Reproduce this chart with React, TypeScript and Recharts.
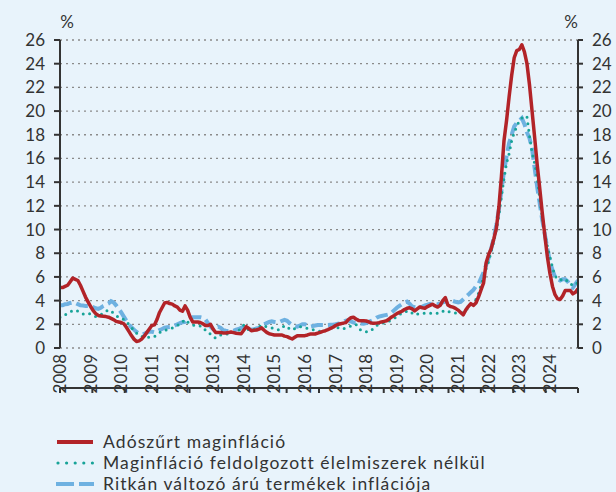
import React from 'react';
import { LineChart, Line, XAxis, YAxis, CartesianGrid } from 'recharts';

const yearLabels = ['2008','2009','2010','2011','2012','2013','2014','2015','2016','2017','2018','2019','2020','2021','2022','2023','2024'];
const yTicks = [0,2,4,6,8,10,12,14,16,18,20,22,24,26];

const seriesNames = ['Adószűrt maginfláció','Maginfláció feldolgozott élelmiszerek nélkül','Ritkán változó árú termékek inflációja'];

const adoszurt = [
  5.1,5.1,5.2,5.3,5.6,5.9,5.8,5.7,5.3,4.8,
  4.3,3.9,3.5,3.15,2.9,2.75,2.7,2.68,2.65,2.6,
  2.5,2.4,2.25,2.2,2.15,2.05,1.75,1.4,1.05,0.75,
  0.55,0.6,0.75,1.0,1.3,1.6,1.9,1.95,2.4,3.0,
  3.4,3.8,3.85,3.75,3.7,3.55,3.45,3.2,3.1,3.55,
  3.2,2.6,2.2,2.2,2.2,2.15,2.05,1.9,1.9,2.0,
  1.6,1.3,1.3,1.3,1.27,1.27,1.3,1.35,1.3,1.25,
  1.22,1.2,1.5,1.8,1.65,1.46,1.5,1.52,1.6,1.7,
  1.5,1.32,1.2,1.15,1.1,1.1,1.1,1.1,1.0,0.96,
  0.85,0.76,0.9,1.04,1.04,1.04,1.04,1.1,1.18,1.18,
  1.18,1.25,1.32,1.4,1.46,1.55,1.65,1.75,1.9,2.0,
  2.05,2.1,2.14,2.4,2.55,2.6,2.45,2.33,2.3,2.3,
  2.28,2.2,2.1,2.08,2.1,2.14,2.2,2.25,2.3,2.45,
  2.62,2.75,2.9,3.0,3.1,3.25,3.35,3.4,3.3,3.13,
  3.3,3.46,3.4,3.35,3.5,3.6,3.7,3.55,3.46,3.6,
  4.0,4.25,3.63,3.5,3.45,3.35,3.2,3.0,2.8,3.2,
  3.5,3.75,3.6,3.8,4.3,4.9,5.5,7.2,7.9,8.4,
  9.2,10.1,11.9,14.5,17.5,19.2,21.2,23.0,24.5,25.1,
  25.2,25.6,25.0,24.0,22.2,20.0,17.8,15.5,13.5,11.4,
  9.5,7.7,6.3,5.2,4.5,4.15,4.1,4.4,4.85,4.85,
  4.85,4.57,4.7,5.0,
];

const feldolgozottNelkul = [
  2.6,2.65,2.8,2.95,3.05,3.15,3.2,3.1,2.95,2.87,
  2.9,2.93,2.85,2.75,2.65,2.7,2.8,2.95,3.1,3.2,
  3.15,2.9,2.73,2.6,2.5,2.4,2.2,2.0,1.7,1.5,
  1.25,1.05,0.98,0.95,0.92,0.9,0.93,0.96,1.15,1.3,
  1.4,1.5,1.55,1.6,1.7,1.75,1.9,2.03,2.2,2.4,
  2.2,2.03,1.95,1.9,1.89,1.85,1.8,1.5,1.3,1.18,
  0.95,0.85,1.0,1.1,1.15,1.18,1.2,1.28,1.32,1.4,
  1.46,1.7,1.94,1.7,1.52,1.55,1.58,1.6,1.75,1.94,
  1.85,1.8,1.75,1.7,1.65,1.55,1.52,1.7,1.89,1.8,
  1.6,1.52,1.65,1.75,1.8,1.75,1.69,1.65,1.6,1.55,
  1.52,1.45,1.4,1.38,1.45,1.6,1.68,1.72,1.75,1.7,
  1.6,1.62,1.7,1.77,1.85,1.95,2.0,1.7,1.49,1.42,
  1.38,1.38,1.5,1.7,1.9,2.0,2.06,2.15,2.22,2.28,
  2.4,2.5,2.65,2.8,2.95,3.05,3.1,3.13,2.95,2.79,
  2.85,2.9,2.93,2.93,2.93,2.93,2.93,2.93,2.93,2.95,
  3.1,3.18,3.1,3.0,2.97,2.95,2.93,2.95,3.0,3.2,
  3.4,3.6,3.8,4.1,4.6,5.3,6.0,6.7,7.3,8.2,
  9.0,10.0,11.2,12.8,14.3,15.6,16.4,17.5,18.2,18.7,
  19.2,19.4,19.6,19.5,17.9,16.5,15.6,14.4,12.6,11.0,
  9.6,8.6,7.7,6.8,6.1,5.8,5.75,5.8,5.85,5.6,
  5.4,5.3,5.3,5.6,
];

const ritkanValtozo = [
  3.6,3.6,3.7,3.72,3.8,3.85,3.8,3.7,3.6,3.58,
  3.55,3.55,3.5,3.45,3.35,3.3,3.4,3.55,3.65,3.75,
  3.95,3.85,3.6,3.3,3.0,2.65,2.3,2.0,1.75,1.55,
  1.35,1.2,1.18,1.2,1.3,1.4,1.38,1.32,1.4,1.52,
  1.6,1.72,1.75,1.78,1.8,1.9,2.0,2.1,2.17,2.2,
  2.4,2.55,2.6,2.6,2.6,2.6,2.55,2.4,2.1,1.8,
  1.6,1.7,1.8,1.7,1.5,1.45,1.42,1.4,1.45,1.55,
  1.6,1.7,1.8,1.75,1.6,1.52,1.58,1.65,1.7,1.85,
  2.0,2.1,2.2,2.25,2.2,2.17,2.2,2.3,2.37,2.3,
  2.1,1.95,1.85,1.8,1.9,2.0,2.0,1.9,1.8,1.85,
  1.9,1.94,1.94,1.94,1.94,1.95,1.96,1.97,2.0,2.05,
  2.1,2.2,2.3,2.34,2.25,2.15,2.14,2.1,2.06,2.05,
  2.1,2.2,2.3,2.4,2.55,2.65,2.7,2.75,2.8,2.85,
  3.0,3.2,3.4,3.55,3.7,3.85,3.92,3.75,3.5,3.45,
  3.4,3.42,3.5,3.6,3.65,3.72,3.75,3.72,3.7,3.75,
  3.85,3.92,3.95,3.97,3.97,3.9,3.85,3.9,4.1,4.3,
  4.5,4.7,4.9,5.2,5.4,5.9,6.4,7.0,7.6,8.4,
  9.3,10.4,11.7,13.3,14.9,16.2,17.3,18.0,18.7,19.0,
  19.2,19.4,18.9,18.2,17.7,16.8,15.2,13.6,12.2,10.8,
  9.6,8.4,7.3,6.6,6.0,5.8,5.7,5.8,5.8,5.6,
  5.3,5.1,5.4,5.7,
];

const N = adoszurt.length;
const data = adoszurt.map((v, i) => ({
  m: i,
  red: v,
  green: feldolgozottNelkul[i],
  blue: ritkanValtozo[i],
}));
const axisTicks = Array.from({ length: 17 }, (_, k) => (k * (N - 1)) / 16);
const labelTicks = yearLabels.map((_, i) => i * 12);

const BG = '#E8F3FB';
const TXT = '#333333';
const AXIS = '#333333';
const RED = '#B22328';
const GREEN = '#17A398';
const BLUE = '#6EB1E1';
const FONT = 'Lato, "Open Sans", sans-serif';

const YearTick = (props: any) => {
  const { x, y, payload } = props;
  const label = yearLabels[Math.round(payload.value / 12)];
  const px = x + 6;
  const py = y + 6;
  return (
    <g transform={`translate(${px} ${py}) rotate(-90)`}>
      <text x={0} y={0} textAnchor="end" fontSize={17} fill={TXT} fontFamily={FONT}>
        {label}
      </text>
    </g>
  );
};

const PercentLeft = (props: any) => {
  const vb = props.viewBox || {};
  return (
    <text x={vb.x + vb.width + 7} y={vb.y - 12} textAnchor="middle" fontSize={17} fill={TXT} fontFamily={FONT}>
      %
    </text>
  );
};
const PercentRight = (props: any) => {
  const vb = props.viewBox || {};
  return (
    <text x={vb.x - 7} y={vb.y - 12} textAnchor="middle" fontSize={17} fill={TXT} fontFamily={FONT}>
      %
    </text>
  );
};

const LegendRow = ({ kind, label }: { kind: number; label: string }) => {
  let line;
  if (kind === 0) line = <line x1={1} y1={7} x2={37} y2={7} stroke={RED} strokeWidth={4} />;
  else if (kind === 1)
    line = <line x1={2} y1={7} x2={37} y2={7} stroke={GREEN} strokeWidth={3.2} strokeLinecap="round" strokeDasharray="0 8.6" />;
  else line = <line x1={0} y1={7} x2={38} y2={7} stroke={BLUE} strokeWidth={4} strokeDasharray="18 5" />;
  return (
    <div style={{ display: 'flex', alignItems: 'center', height: 21 }}>
      <svg width={40} height={14} style={{ display: 'block' }}>{line}</svg>
      <span style={{ marginLeft: 7, fontSize: 17.5, letterSpacing: 1.1, color: TXT, fontFamily: FONT, whiteSpace: 'nowrap' }}>{label}</span>
    </div>
  );
};

export default function App() {
  return (
    <div style={{ width: 616, height: 492, background: BG, position: 'relative', overflow: 'hidden' }}>
      <style>{'body{margin:0}'}</style>
      <LineChart width={616} height={492} data={data} margin={{ top: 40, right: 0, bottom: 98, left: 0 }}>
        <CartesianGrid
          xAxisId="main"
          yAxisId="left"
          vertical={false}
          stroke="#8a8a8a"
          strokeWidth={1.3}
          strokeDasharray="2 4"
        />
        <XAxis
          xAxisId="main"
          dataKey="m"
          type="number"
          domain={[0, N - 1]}
          ticks={axisTicks}
          interval={0}
          height={6}
          tickSize={5}
          tick={() => <g />}
          axisLine={{ stroke: AXIS, strokeWidth: 2 }}
          tickLine={{ stroke: AXIS, strokeWidth: 2 }}
          allowDataOverflow
        />
        <XAxis
          xAxisId="lab"
          dataKey="m"
          type="number"
          domain={[0, N - 1]}
          ticks={labelTicks}
          interval={0}
          height={40}
          tickSize={0}
          tickMargin={0}
          axisLine={false}
          tickLine={false}
          tick={YearTick}
          allowDataOverflow
        />
        <YAxis
          yAxisId="left"
          orientation="left"
          width={60}
          domain={[0, 26]}
          ticks={yTicks}
          interval={0}
          tickSize={6}
          tickMargin={9}
          tick={{ fontSize: 17, fill: TXT, fontFamily: FONT }}
          axisLine={{ stroke: AXIS, strokeWidth: 2 }}
          tickLine={{ stroke: AXIS, strokeWidth: 2 }}
          label={<PercentLeft />}
          allowDataOverflow
        />
        <YAxis
          yAxisId="right"
          orientation="right"
          width={38}
          domain={[0, 26]}
          ticks={yTicks}
          interval={0}
          tickSize={5}
          tickMargin={9}
          tick={{ fontSize: 17, fill: TXT, fontFamily: FONT, textAnchor: 'start' }}
          axisLine={{ stroke: AXIS, strokeWidth: 2 }}
          tickLine={{ stroke: AXIS, strokeWidth: 2 }}
          label={<PercentRight />}
          allowDataOverflow
        />
        <Line
          xAxisId="main"
          yAxisId="left"
          type="linear"
          dataKey="blue"
          stroke={BLUE}
          strokeWidth={4}
          strokeDasharray="12 5"
          dot={false}
          activeDot={false}
          isAnimationActive={false}
        />
        <Line
          xAxisId="main"
          yAxisId="left"
          type="linear"
          dataKey="green"
          stroke={GREEN}
          strokeWidth={3}
          strokeLinecap="round"
          strokeDasharray="0 6.5"
          dot={false}
          activeDot={false}
          isAnimationActive={false}
        />
        <Line
          xAxisId="main"
          yAxisId="left"
          type="linear"
          dataKey="red"
          stroke={RED}
          strokeWidth={3.5}
          strokeLinejoin="round"
          dot={false}
          activeDot={false}
          isAnimationActive={false}
        />
      </LineChart>
      <div style={{ position: 'absolute', left: 56, top: 431 }}>
        {seriesNames.map((s, i) => (
          <LegendRow key={s} kind={i} label={s} />
        ))}
      </div>
    </div>
  );
}
